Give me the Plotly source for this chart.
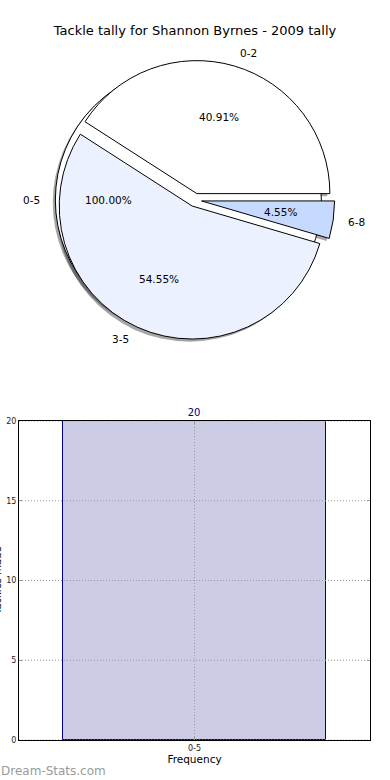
import math
import plotly.graph_objects as go

# ---------------- data ----------------
TITLE = "Tackle tally for Shannon Byrnes - 2009 tally"
tackle_labels = ["0-2", "3-5", "6-8"]
tackle_values = [9, 12, 1]
overall_labels = ["0-5"]
overall_values = [20]
bar_categories = ["0-5"]
bar_values = [20]
y_ticks = [0, 5, 10, 15, 20]
x_title = "Frequency"
y_title = "Tackles made"
watermark = "Dream-Stats.com"

# ---------------- style / geometry ----------------
W, H = 390, 780
FONT = "DejaVu Sans"
PIE_CX, PIE_CY, PIE_R = 195, 200, 133
EXPLODE = 0.05
SHADOW_DX, SHADOW_DY = -2.6, 2.6
SHADOW = "rgba(0,0,0,0.35)"
tackle_colors = ["#FFFFFF", "#EBF1FE", "#C6D9FE"]
overall_colors = ["#FFFFFF"]
GRID = dict(color="#9a9a9a", width=1, dash="1px,2px")


def px_x(x):
    return x / W


def px_y(y):
    return 1 - y / H


def dom(cx, cy, half):
    return dict(x=[px_x(cx - half), px_x(cx + half)],
                y=[px_y(cy + half), px_y(cy - half)])


def slice_geometry(values):
    total = sum(values)
    out = []
    start = 0.0
    for v in values:
        frac = v / total
        mid = math.radians((start + frac / 2) * 360)
        start += frac
        out.append((frac, mid))
    return out


def ccw_rotation(values):
    # plotly (counterclockwise) puts the first slice just clockwise of `rotation`;
    # shift so the first slice starts at 3 o'clock and runs counterclockwise.
    return 90 - 360 * values[0] / sum(values)


annotations = []


def add_pie_texts(labels, values, cx, cy, r, explode):
    for lab, (frac, mid) in zip(labels, slice_geometry(values)):
        ex = cx + explode * r * math.cos(mid)
        ey = cy - explode * r * math.sin(mid)
        annotations.append(dict(
            x=px_x(ex + 0.6 * r * math.cos(mid)), y=px_y(ey - 0.6 * r * math.sin(mid)),
            xref="paper", yref="paper", text=f"{frac * 100:.2f}%", showarrow=False,
            xanchor="center", yanchor="middle", font=dict(family=FONT, size=10.5, color="#000")))
        annotations.append(dict(
            x=px_x(ex + 1.1 * r * math.cos(mid)), y=px_y(ey - 1.1 * r * math.sin(mid)),
            xref="paper", yref="paper", text=lab, showarrow=False,
            xanchor="left" if math.cos(mid) > 0 else "right", yanchor="middle",
            font=dict(family=FONT, size=10.5, color="#000")))


fig = go.Figure()

# overall (single slice, exploded toward its mid angle)
(_, ov_mid), = slice_geometry(overall_values)
ov_cx = PIE_CX + EXPLODE * PIE_R * math.cos(ov_mid)
ov_cy = PIE_CY - EXPLODE * PIE_R * math.sin(ov_mid)

common = dict(sort=False, direction="counterclockwise", textinfo="none", showlegend=False)
rot_tackle = ccw_rotation(tackle_values)

# shadows
fig.add_trace(go.Pie(labels=overall_labels, values=overall_values, rotation=90,
                     domain=dom(ov_cx + SHADOW_DX, ov_cy + SHADOW_DY, PIE_R),
                     marker=dict(colors=[SHADOW] * len(overall_values), line=dict(width=0)),
                     hoverinfo="skip", **common))
fig.add_trace(go.Pie(labels=tackle_labels, values=tackle_values, rotation=rot_tackle,
                     domain=dom(PIE_CX + SHADOW_DX, PIE_CY + SHADOW_DY, PIE_R * (1 + EXPLODE)),
                     pull=[EXPLODE] * len(tackle_values),
                     marker=dict(colors=[SHADOW] * len(tackle_values), line=dict(width=0)),
                     hoverinfo="skip", **common))
# overall pie
fig.add_trace(go.Pie(labels=overall_labels, values=overall_values, rotation=90,
                     domain=dom(ov_cx, ov_cy, PIE_R),
                     marker=dict(colors=overall_colors, line=dict(color="#000", width=1)),
                     **common))
# tackle pie
fig.add_trace(go.Pie(labels=tackle_labels, values=tackle_values, rotation=rot_tackle,
                     domain=dom(PIE_CX, PIE_CY, PIE_R * (1 + EXPLODE)),
                     pull=[EXPLODE] * len(tackle_values),
                     marker=dict(colors=tackle_colors, line=dict(color="#000", width=1)),
                     **common))

add_pie_texts(overall_labels, overall_values, PIE_CX, PIE_CY, PIE_R, EXPLODE)
add_pie_texts(tackle_labels, tackle_values, PIE_CX, PIE_CY, PIE_R, EXPLODE)

# bar chart
fig.add_trace(go.Bar(x=bar_categories, y=bar_values, width=0.752,
                     marker=dict(color="#CCCCE6", line=dict(color="#000080", width=1)),
                     text=[str(v) for v in bar_values], textposition="outside",
                     textfont=dict(family=FONT, size=10, color="#000080"),
                     cliponaxis=False, showlegend=False))

# dotted grid drawn above the bar (as in the reference)
shapes = []
for t in y_ticks:
    shapes.append(dict(type="line", xref="x domain", yref="y", x0=0, x1=1, y0=t, y1=t,
                       line=GRID, layer="above"))
for i, _ in enumerate(bar_categories):
    shapes.append(dict(type="line", xref="x", yref="y domain", x0=i, x1=i, y0=0, y1=1,
                       line=GRID, layer="above"))

annotations.append(dict(x=px_x(5), y=0.5 * (px_y(421) + px_y(740)), xref="paper", yref="paper",
                        text=y_title, textangle=-90, showarrow=False, xanchor="right",
                        yanchor="middle", font=dict(family=FONT, size=10, color="#000")))
annotations.append(dict(x=px_x(-1), y=px_y(771), xref="paper", yref="paper", text=watermark,
                        showarrow=False, xanchor="left", yanchor="middle",
                        font=dict(family=FONT, size=12, color="#9a9a9a")))

axis_common = dict(showline=True, linecolor="#000", linewidth=1, mirror="ticks",
                   ticks="inside", ticklen=3, tickcolor="#999", showgrid=False,
                   tickfont=dict(family=FONT, size=8, color="#222"), zeroline=False,
                   automargin=False)

fig.update_layout(
    width=W, height=H,
    margin=dict(l=0, r=0, t=0, b=0, pad=0),
    paper_bgcolor="white", plot_bgcolor="white",
    font=dict(family=FONT, color="#000"),
    title=dict(text=TITLE, x=0.5, xanchor="center", y=px_y(30), yanchor="middle",
               font=dict(family=FONT, size=13, color="#000")),
    xaxis=dict(domain=[px_x(19), px_x(370)], type="category", range=[-0.5, 0.5],
               title=dict(text=x_title, font=dict(family=FONT, size=10.5, color="#000"), standoff=4),
               **axis_common),
    yaxis=dict(domain=[px_y(740), px_y(421)], range=[0, 20], tickvals=y_ticks,
               **axis_common),
    annotations=annotations,
    shapes=shapes,
    bargap=0,
)

fig.write_html("out.html", config={"displayModeBar": False},
               post_script="document.body.style.margin='0px';document.body.style.overflow='hidden';")
